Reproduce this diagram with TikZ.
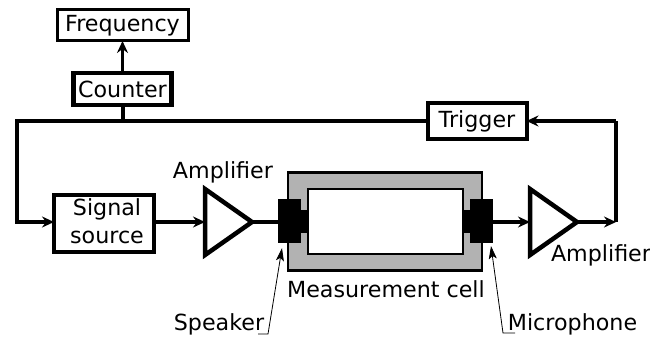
\documentclass[tikz,border=0pt]{standalone}
\usepackage{fontspec}
\setmainfont{DejaVu Sans}
\usetikzlibrary{calc,arrows.meta,shapes.geometric}
\tikzset{
  >={Stealth[length=12pt,width=11pt,inset=4pt]},
  block/.style={draw,rectangle,inner sep=0pt,outer sep=0pt,align=center,fill=white},
  amp/.style={draw,isosceles triangle,isosceles triangle stretches,minimum width=66pt,minimum height=47pt,
    inner sep=0pt,outer sep=0pt,line width=4.5pt,anchor=lower side,miter limit=10},
  wire/.style={line width=4pt},
  sigarrow/.style={line width=3.5pt,->},
  leader/.style={line width=0.8pt},
  txt/.style={inner sep=0pt,outer sep=0pt},
}
\begin{document}
\begin{tikzpicture}[x=1pt,y=-1pt,font=\fontsize{22.2}{26}\selectfont]
\useasboundingbox (0,0) rectangle (650,337);

\draw node [block,line width=3pt,minimum width=131pt,minimum height=31pt] (freq) at (122.5,25.5) {Frequency};
\draw node [block,line width=4.5pt,minimum width=98pt,minimum height=32pt] (counter) at (122.5,89) {Counter};
\draw node [block,line width=4pt,minimum width=99pt,minimum height=36pt] (trigger) at (477,121) {Trigger};
\draw node [block,line width=4.5pt,minimum width=100pt,minimum height=57pt] (source) at (104,223.5) {\hspace*{6pt}Signal\\[2pt]\hspace*{6pt}source\rule[-4pt]{0pt}{4pt}};

% measurement cell
\draw node [block,fill=black!30,line width=2.5pt,minimum width=194pt,minimum height=98pt] (cell) at (385,221.5) {};
\draw node [block,line width=2.5pt,minimum width=155pt,minimum height=65pt] (cavity) at (385.5,221.5) {};

\draw node [block,fill=black,draw=none,minimum width=8pt,minimum height=23pt] (speakertip) at (305,221.5) {};
\draw node [block,fill=black,draw=none,minimum width=23pt,minimum height=44pt] (speaker) at (289.5,221) {};
\draw node [block,fill=black,draw=none,minimum width=8pt,minimum height=23pt] (mictip) at (466,221.5) {};
\draw node [block,fill=black,draw=none,minimum width=23pt,minimum height=44pt] (mic) at (481.5,221) {};

\draw node [amp] (ampa) at (205,222) {};
\draw node [amp] (ampb) at (530,222) {};

\draw node [txt] (ampalabel) at (223,172) {Amplifier};
\draw node [txt] (ampblabel) at (601,255) {Amplifier};
\draw node [txt] (celllabel) at (386,289) {Measurement cell};
\draw node [txt] (speakerlabel) at (219,324) {Speaker};
\draw node [txt] (miclabel) at (572.5,324) {Microphone};

\coordinate (busleft) at (17,121);
\coordinate (busright) at (616,121);
\coordinate (ampbout) at (616,222);
\coordinate (speakerbend) at (268,334);
\coordinate (speakerend) at (258,334);
\coordinate (micbend) at (503,333);
\coordinate (micend) at (515,333);

\draw[sigarrow] (counter.north) -- (freq.south);
\draw[wire] (counter.south) -- (counter.south |- busleft);
\draw[wire] (trigger.west) -- (busleft) -- (busleft |- ampa.lower side);
\draw[sigarrow] ($(busleft |- ampa.lower side)+(-2,0)$) -- (source.west |- ampa.lower side);
\draw[sigarrow] (source.east |- ampa.lower side) -- (ampa.lower side);
\draw[wire] (ampa.apex) -- (speaker.west |- ampa.apex);
\draw[sigarrow] (mic.east |- ampb.lower side) -- (ampb.lower side);
\draw[sigarrow] (ampb.apex) -- (ampbout);
\draw[wire] (ampbout) -- (busright);
\draw[sigarrow] (busright) -- (trigger.east);

\draw[leader,->,>={Stealth[length=13pt,width=8pt,inset=3pt]}] (speakerend) -- (speakerbend) -- (282,248);
\draw[leader,->,>={Stealth[length=13pt,width=8pt,inset=3pt]}] (micend) -- (micbend) -- (491,246);

\end{tikzpicture}
\end{document}
